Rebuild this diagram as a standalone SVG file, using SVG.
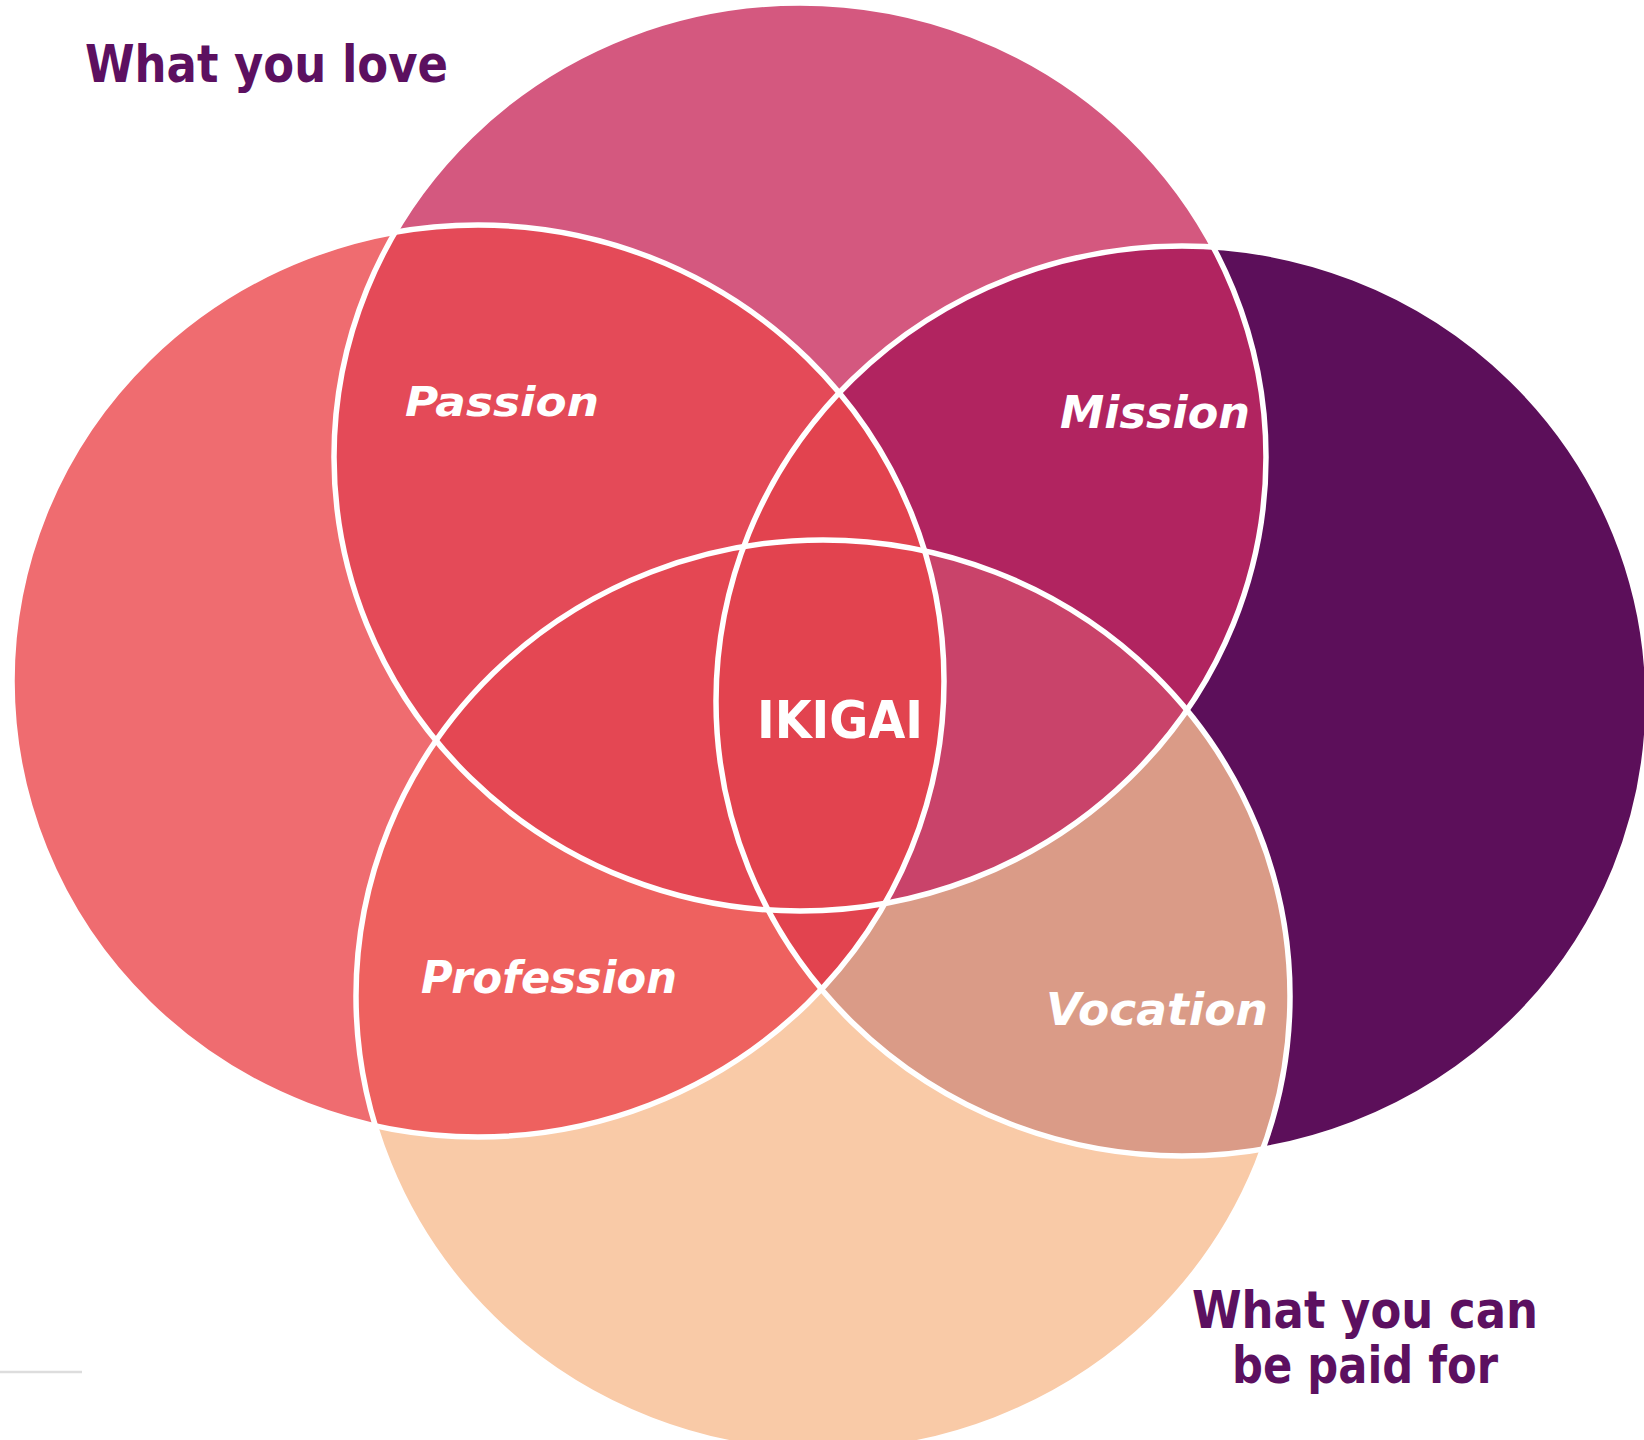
<svg xmlns="http://www.w3.org/2000/svg" width="1644" height="1440" viewBox="0 0 1644 1440">
<style>
.outline{fill:none;stroke:#FFFFFF;stroke-width:5.5}
.head{font-family:"DejaVu Sans","Liberation Sans",sans-serif;font-weight:bold;fill:#5C1060}
.lab{font-family:"DejaVu Sans","Liberation Sans",sans-serif;font-weight:bold;font-style:italic;fill:#FFFFFF}
.core{font-family:"DejaVu Sans","Liberation Sans",sans-serif;font-weight:bold;fill:#FFFFFF}
</style>
<defs>
<ellipse id="eT" cx="800" cy="457" rx="466" ry="454"/>
<ellipse id="eL" cx="478" cy="681" rx="466" ry="456"/>
<ellipse id="eR" cx="1182" cy="701" rx="466" ry="455"/>
<ellipse id="eB" cx="823" cy="996" rx="467" ry="456"/>
<clipPath id="cT"><use href="#eT"/></clipPath>
<clipPath id="cL"><use href="#eL"/></clipPath>
<clipPath id="cR"><use href="#eR"/></clipPath>
<clipPath id="cB"><use href="#eB"/></clipPath>
</defs>
<rect width="1644" height="1440" fill="#FFFFFF"/>
<g id="circle-top"><use href="#eT" fill="#D4587F"/></g>
<g id="circle-left"><use href="#eL" fill="#EF6C70"/></g>
<g id="circle-right"><use href="#eR" fill="#5C0F5A"/></g>
<g id="circle-bottom"><use href="#eB" fill="#F9CAA7"/></g>
<g id="passion-area"><use href="#eL" fill="#E44A58" clip-path="url(#cT)"/></g>
<g id="mission-area"><use href="#eR" fill="#B12460" clip-path="url(#cT)"/></g>
<g id="profession-area"><use href="#eL" fill="#EE615F" clip-path="url(#cB)"/></g>
<g id="vocation-area"><use href="#eR" fill="#DA9B87" clip-path="url(#cB)"/></g>
<g id="tlb-area" clip-path="url(#cT)"><use href="#eL" fill="#E44753" clip-path="url(#cB)"/></g>
<g id="trb-area" clip-path="url(#cT)"><use href="#eR" fill="#C9436A" clip-path="url(#cB)"/></g>
<g id="ikigai-area"><use href="#eL" fill="#E2434F" clip-path="url(#cR)"/></g>
<g id="connectors">
<use href="#eT" class="outline"/>
<use href="#eL" class="outline"/>
<use href="#eR" class="outline"/>
<use href="#eB" class="outline"/>
</g>
<line x1="0" y1="1372" x2="82" y2="1372" stroke="#DDDDDD" stroke-width="2.5"/>
<g id="labels">
<text class="head" x="85" y="82" font-size="51" textLength="363" lengthAdjust="spacingAndGlyphs">What you love</text>
<text class="head" x="1192" y="1328" font-size="51" textLength="346" lengthAdjust="spacingAndGlyphs">What you can</text>
<text class="head" x="1232" y="1383" font-size="51" textLength="266" lengthAdjust="spacingAndGlyphs">be paid for</text>
<text class="lab" x="405" y="416" font-size="40" textLength="194" lengthAdjust="spacingAndGlyphs">Passion</text>
<text class="lab" x="1060" y="428" font-size="45" textLength="190" lengthAdjust="spacingAndGlyphs">Mission</text>
<text class="lab" x="421" y="993" font-size="45" textLength="256" lengthAdjust="spacingAndGlyphs">Profession</text>
<text class="lab" x="1046" y="1025" font-size="45" textLength="222" lengthAdjust="spacingAndGlyphs">Vocation</text>
<text class="core" x="757" y="738" font-size="52" textLength="166" lengthAdjust="spacingAndGlyphs">IKIGAI</text>
</g>
</svg>
